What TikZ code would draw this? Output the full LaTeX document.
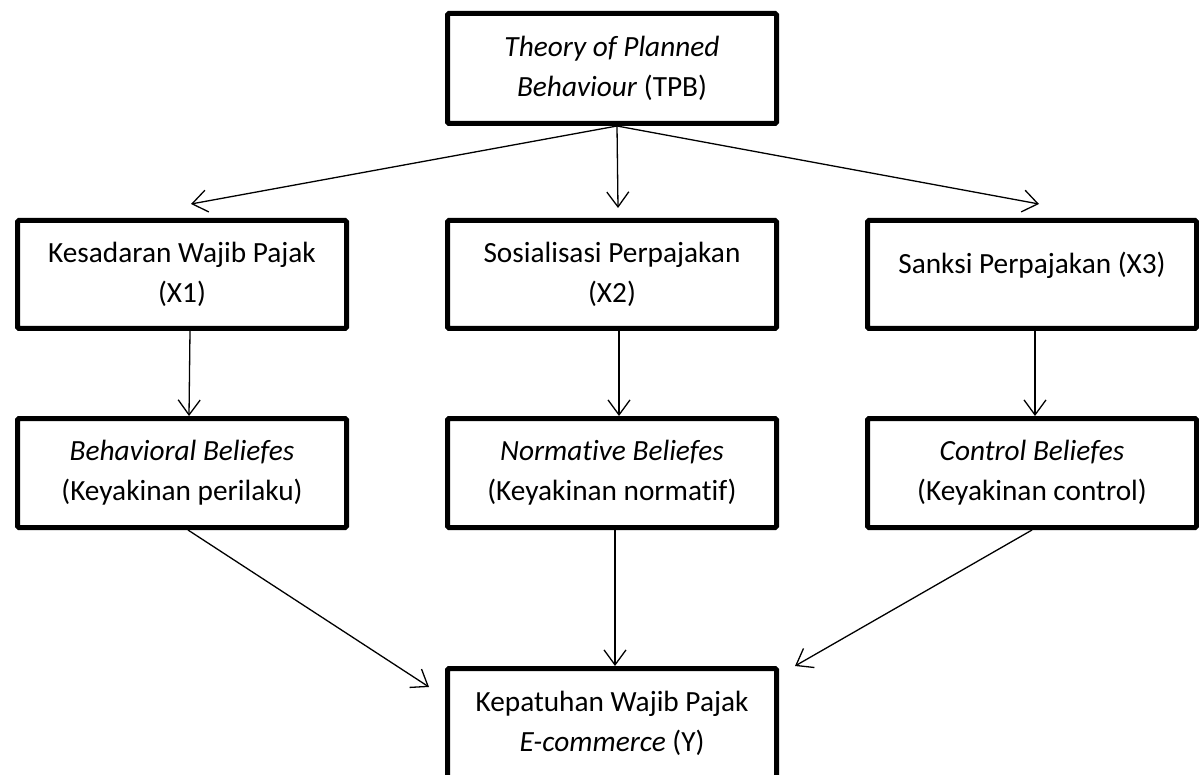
\documentclass[tikz,border=0pt]{standalone}
\usepackage{fontspec}
\setmainfont{Carlito}[Ligatures=NoCommon]
\usetikzlibrary{arrows.meta,positioning}

\begin{document}
\begin{tikzpicture}[
    font=\fontsize{29.3pt}{40pt}\selectfont,
    box/.style={draw=black, line width=5pt, rounded corners=1.5pt, align=center,
      minimum width=329pt, minimum height=109pt, outer sep=2.5pt, inner sep=0pt},
    arrow/.style={-{Straight Barb[length=15pt,width=22pt]}, line width=1.3pt}
  ]
    \useasboundingbox (0,0) rectangle (1199pt,-775pt);

    \node[box, minimum height=110pt] (tpb) at (612pt,-68.5pt) {\textit{Theory of Planned}\\\textit{Behaviour} (TPB)};

    \node[box, minimum height=108pt, below=92pt of tpb] (sos) {Sosialisasi Perpajakan\\(X2)};
    \node[box, minimum height=108pt, left=96pt of sos] (kes) {Kesadaran Wajib Pajak\\(X1)};
    \node[box, minimum height=108pt, right=86pt of sos, text depth=23pt] (san) {Sanksi Perpajakan (X3)};

    \node[box, below=85pt of sos] (nor) {\textit{Normative Beliefes}\\(Keyakinan normatif)};
    \node[box, left=96pt of nor] (beh) {\textit{Behavioral Beliefes}\\(Keyakinan perilaku)};
    \node[box, right=86pt of nor] (con) {\textit{Control Beliefes}\\(Keyakinan control)};

    \node[box, minimum height=109pt, below=136pt of nor] (kep) {Kepatuhan Wajib Pajak\\\textit{E-commerce} (Y)};

    \draw[arrow] ([xshift=5pt]tpb.south) -- ([xshift=9pt,yshift=14pt]kes.north);
    \draw[arrow] ([xshift=5pt]tpb.south) -- ([xshift=6pt,yshift=10pt]sos.north);
    \draw[arrow] ([xshift=5pt]tpb.south) -- ([xshift=7pt,yshift=14pt]san.north);
    \draw[arrow] ([xshift=8pt]kes.south) -- ([xshift=7pt]beh.north);
    \draw[arrow] ([xshift=7pt]sos.south) -- ([xshift=7pt]nor.north);
    \draw[arrow] ([xshift=3pt]san.south) -- ([xshift=3pt]con.north);
    \draw[arrow] ([xshift=6pt]beh.south) -- ([xshift=-16pt,yshift=-21pt]kep.north west);
    \draw[arrow] ([xshift=3pt]nor.south) -- ([xshift=3pt]kep.north);
    \draw[arrow] (con.south) -- ([xshift=16pt]kep.north east);
  \end{tikzpicture}
\end{document}
